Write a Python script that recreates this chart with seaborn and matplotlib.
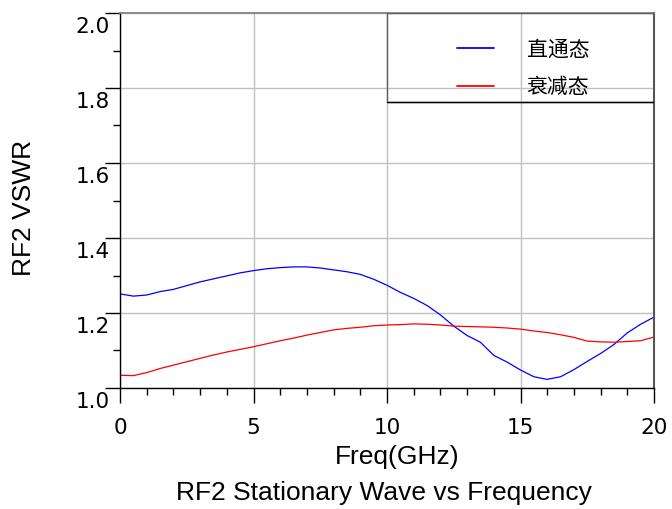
import numpy as np
import pandas as pd
import matplotlib
matplotlib.use('Agg')
import matplotlib.pyplot as plt
import matplotlib.transforms as mtransforms
from matplotlib.ticker import MultipleLocator
from matplotlib.patches import Rectangle
import seaborn as sns

# Frequenz (GHz)
freq = [0.0, 0.5, 1.0, 1.5, 2.0, 2.5, 3.0, 3.5, 4.0, 4.5, 5.0, 5.5, 6.0, 6.5, 7.0,
        7.5, 8.0, 8.5, 9.0, 9.5, 10.0, 10.5, 11.0, 11.5, 12.0, 12.5, 13.0, 13.5,
        14.0, 14.5, 15.0, 15.5, 16.0, 16.5, 17.0, 17.5, 18.0, 18.5, 19.0, 19.5, 20.0]

# VSWR 直通态
vswr_thru = [1.251, 1.245, 1.248, 1.257, 1.263, 1.273, 1.283, 1.291, 1.299, 1.307,
             1.313, 1.318, 1.321, 1.323, 1.323, 1.320, 1.315, 1.310, 1.303, 1.290,
             1.274, 1.255, 1.239, 1.220, 1.195, 1.165, 1.140, 1.122, 1.087, 1.069,
             1.048, 1.030, 1.023, 1.030, 1.049, 1.071, 1.092, 1.116, 1.147, 1.170,
             1.189]

# VSWR 衰减态
vswr_att = [1.034, 1.033, 1.041, 1.052, 1.061, 1.070, 1.079, 1.088, 1.096, 1.103,
            1.110, 1.118, 1.126, 1.133, 1.141, 1.148, 1.155, 1.159, 1.162, 1.166,
            1.168, 1.169, 1.171, 1.170, 1.168, 1.165, 1.164, 1.163, 1.162, 1.160,
            1.157, 1.152, 1.148, 1.142, 1.135, 1.125, 1.123, 1.122, 1.124, 1.126,
            1.136]

labels = ['直通态', '衰减态']
colors = ['#0000ff', '#ff0000']

df = pd.DataFrame({'freq': freq, labels[0]: vswr_thru, labels[1]: vswr_att})
df = df.melt(id_vars='freq', var_name='state', value_name='vswr')

sns.set_theme(style='white')
plt.rcParams['font.family'] = ['DejaVu Sans', 'Noto Sans CJK SC']
plt.rcParams['text.color'] = 'black'
plt.rcParams['axes.labelcolor'] = 'black'
plt.rcParams['xtick.color'] = 'black'
plt.rcParams['ytick.color'] = 'black'

fig = plt.figure(figsize=(6.72, 5.09), dpi=100)
ax = fig.add_axes([120 / 672, 1 - 388 / 509, 534 / 672, 375 / 509])

sns.lineplot(data=df, x='freq', y='vswr', hue='state', palette=colors,
             hue_order=labels, linewidth=0.9, ax=ax, legend=False)

ax.set_xlim(0, 20)
ax.set_ylim(1.0, 2.0)
ax.xaxis.set_major_locator(MultipleLocator(5))
ax.xaxis.set_minor_locator(MultipleLocator(1))
ax.yaxis.set_major_locator(MultipleLocator(0.2))
ax.yaxis.set_minor_locator(MultipleLocator(0.1))
ax.yaxis.set_major_formatter(matplotlib.ticker.FormatStrFormatter('%.1f'))

ax.grid(True, which='major', color='#c0c0c0', linewidth=1)
ax.tick_params(axis='both', which='major', direction='out', length=10.5, width=1,
               color='black', labelcolor='black', labelsize=15.5,
               left=True, bottom=True)
ax.tick_params(axis='both', which='minor', direction='out', length=5, width=1,
               color='black', left=True, bottom=True)
ax.tick_params(axis='x', which='major', pad=11)
ax.tick_params(axis='y', which='major', pad=-3)

for side in ['left', 'bottom']:
    ax.spines[side].set_color('black')
    ax.spines[side].set_linewidth(1)
ax.spines['top'].set_color('#808080')
ax.spines['right'].set_color('#555555')
ax.spines['right'].set_linewidth(1.5)

ax.set_xlabel('Freq(GHz)', fontsize=19, family='Liberation Sans', color='black')
ax.set_ylabel('RF2 VSWR', fontsize=19, family='Liberation Sans', color='black')
ax.xaxis.set_label_coords(0.519, -0.184)
ax.xaxis.label.set_va('center')
ax.yaxis.set_label_coords(-0.18, 0.48)
ax.yaxis.label.set_va('center')

fig.text(384 / 672, 1 - 493 / 509, 'RF2 Stationary Wave vs Frequency',
         fontsize=19, family='Liberation Sans', ha='center', va='center',
         color='black')

# Legendenkasten
ax.add_patch(Rectangle((0.5, 0.7627), 0.5, 0.2373, transform=ax.transAxes,
                       facecolor='none', edgecolor='#606060', linewidth=1, zorder=3))
ax.plot([0.5, 1.0], [0.7627, 0.7627], transform=ax.transAxes, color='black',
        linewidth=1, zorder=4)

handles = [plt.Line2D([], [], color=c, linewidth=1.3) for c in colors]
ax.legend(handles, labels, loc='upper left', bbox_to_anchor=(0.631, 0.932),
          frameon=False, borderpad=0, borderaxespad=0, handlelength=1.8,
          handletextpad=1.55, labelspacing=0.75, labelcolor='black',
          prop={'family': ['Noto Sans CJK SC'], 'size': 15})

# y-Beschriftungen etwas nach unten versetzt
offset = mtransforms.ScaledTranslation(0, -0.12, fig.dpi_scale_trans)
for lab in ax.get_yticklabels():
    lab.set_transform(lab.get_transform() + offset)

fig.savefig('out.png', dpi=100)
